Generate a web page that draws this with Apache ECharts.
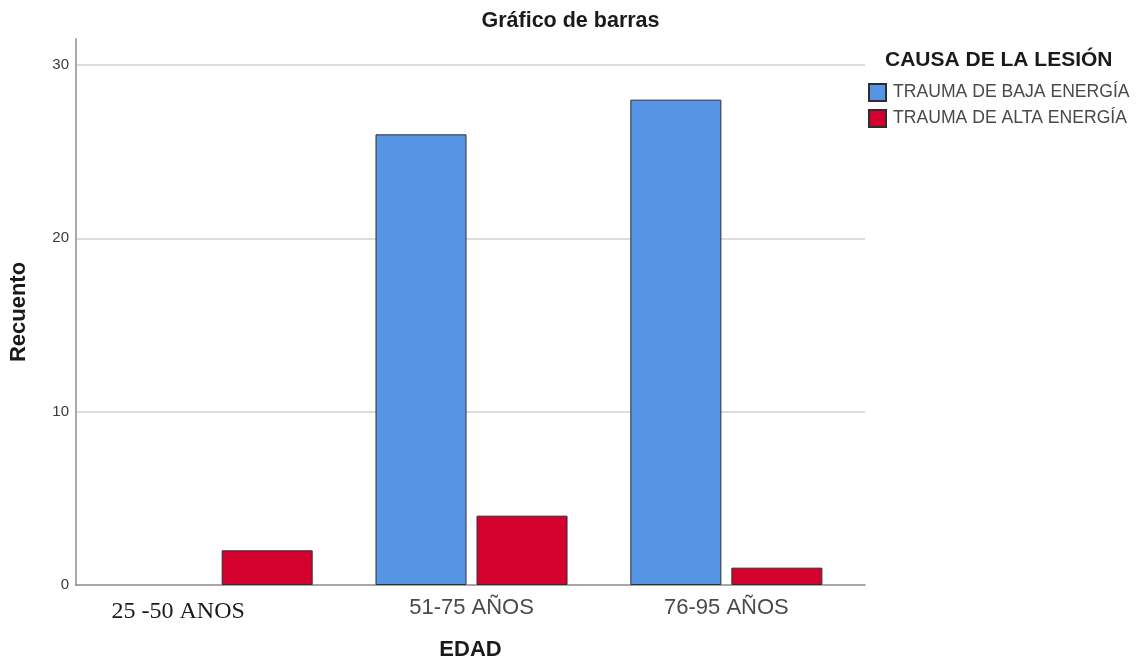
<!DOCTYPE html>
<html>
<head>
<meta charset="utf-8">
<title>Gráfico de barras</title>
<script src="https://cdn.jsdelivr.net/npm/echarts@6/dist/echarts.min.js"></script>
<style>
  html, body { margin: 0; padding: 0; background: #ffffff; }
  #chart { width: 1141px; height: 667px; }
</style>
</head>
<body>
<div id="chart"></div>
<script>
// Age groups (x axis) and injury-cause counts per group
const categories = ['25 -50 ANOS', '51-75 AÑOS', '76-95 AÑOS'];
const seriesNames = ['TRAUMA DE BAJA ENERGÍA', 'TRAUMA DE ALTA ENERGÍA'];
const bajaEnergia = [0, 26, 28];
const altaEnergia = [2, 4, 1];
const yTicks = [0, 10, 20, 30];

const FONT = '"Liberation Sans", Arial, sans-serif';

// Category positions on a numeric axis so the plot can keep SPSS-style side padding
const positions = categories.map((_, i) => i);
// Empty counts get no outline so no stray stroke sits on the baseline
const toPairs = values => values.map((v, i) => (
  v === 0
    ? { value: [positions[i], v], itemStyle: { borderWidth: 0 } }
    : { value: [positions[i], v] }
));

const chart = echarts.init(document.getElementById('chart'), null, { renderer: 'canvas' });

chart.setOption({
  animation: false,
  backgroundColor: '#ffffff',
  title: [
    {
      text: 'Gráfico de barras',
      left: 'center',
      top: 10,
      padding: 0,
      textStyle: { fontFamily: FONT, fontSize: 21.5, fontWeight: 'bold', color: '#1a1a1a' }
    },
    {
      text: 'CAUSA DE LA LESIÓN',
      left: 885,
      top: 50,
      padding: 0,
      textStyle: { fontFamily: FONT, fontSize: 21, fontWeight: 'bold', color: '#1a1a1a' }
    }
  ],
  legend: {
    orient: 'vertical',
    left: 868,
    top: 83,
    padding: 0,
    itemWidth: 17,
    itemHeight: 17,
    itemGap: 7,
    icon: 'rect',
    data: seriesNames,
    textStyle: { fontFamily: FONT, fontSize: 17.6, color: '#4a4a4a', padding: [0, 0, 0, 2] }
  },
  grid: { left: 74, right: 276, top: 39, bottom: 82, containLabel: false },
  xAxis: {
    type: 'value',
    min: -0.552,
    max: 2.544,
    name: 'EDAD',
    nameLocation: 'middle',
    nameGap: 54,
    nameTextStyle: { fontFamily: FONT, fontSize: 22, fontWeight: 'bold', color: '#1a1a1a' },
    axisLine: { show: true, onZero: false, lineStyle: { color: '#8a8a8a', width: 1.5 } },
    axisTick: { show: false },
    splitLine: { show: false },
    axisLabel: {
      customValues: positions,
      margin: 12,
      fontFamily: FONT,
      fontSize: 22,
      color: '#4a4a4a',
      formatter: function (value) {
        const idx = Math.round(value);
        return idx === 0 ? '{s|' + categories[idx] + '}' : categories[idx];
      },
      rich: {
        s: {
          fontFamily: '"Liberation Serif", "Times New Roman", serif',
          fontSize: 24,
          color: '#1a1a1a',
          padding: [3, 77, 0, 0]
        }
      }
    }
  },
  yAxis: {
    type: 'value',
    min: 0,
    max: 31.5,
    interval: 10,
    name: 'Recuento',
    nameLocation: 'middle',
    nameGap: 46,
    nameTextStyle: { fontFamily: FONT, fontSize: 22, fontWeight: 'bold', color: '#1a1a1a' },
    axisLine: { show: true, onZero: false, lineStyle: { color: '#a8a8a8', width: 2 } },
    axisTick: { show: false },
    axisLabel: {
      margin: 7,
      fontFamily: FONT,
      fontSize: 15,
      color: '#3a3a3a',
      showMaxLabel: false,
      formatter: v => (yTicks.indexOf(v) >= 0 ? String(v) : '')
    },
    splitLine: {
      show: true,
      showMinLine: false,
      showMaxLine: false,
      lineStyle: { color: '#dcdcdc', width: 2 }
    }
  },
  series: [
    {
      name: seriesNames[0],
      type: 'bar',
      data: toPairs(bajaEnergia),
      barWidth: 91,
      barGap: '11%',
      itemStyle: { color: '#5595e3', borderColor: '#2e2e2e', borderWidth: 1 }
    },
    {
      name: seriesNames[1],
      type: 'bar',
      data: toPairs(altaEnergia),
      barWidth: 91,
      barGap: '11%',
      itemStyle: { color: '#d4002e', borderColor: '#2e2e2e', borderWidth: 1 }
    }
  ]
});
</script>
</body>
</html>
